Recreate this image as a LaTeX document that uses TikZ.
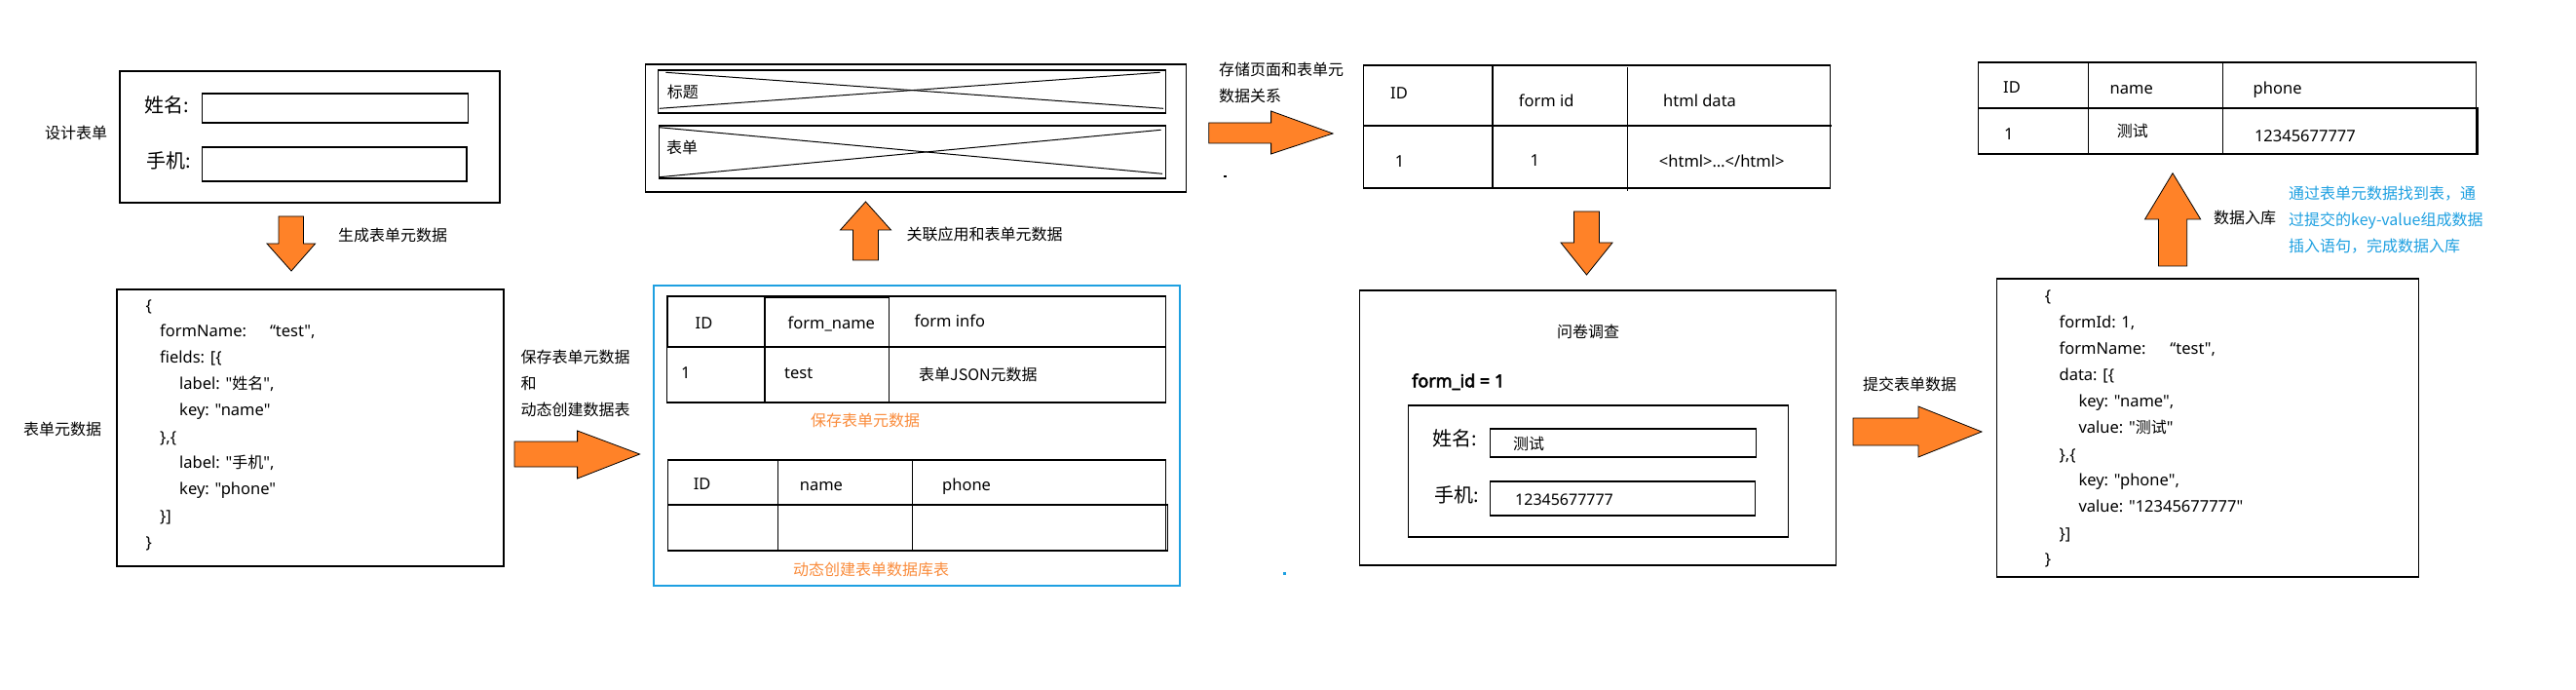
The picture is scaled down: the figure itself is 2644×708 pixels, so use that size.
\documentclass[tikz,border=0pt]{standalone}
\usepackage{fontspec}
\setmainfont{Noto Sans}
\newfontfamily\latn{Noto Sans}
\newfontfamily\latnb{Noto Sans}[FakeBold=3]
\newfontfamily\cjk{Noto Sans CJK SC}
\definecolor{arrowor}{RGB}{255,130,40}
\definecolor{textor}{RGB}{250,140,60}
\definecolor{bluec}{RGB}{30,160,225}
\tikzset{
  bx/.style={draw=black, line width=1.2pt},
  thk/.style={draw=black, line width=2.2pt},
  tx/.style={inner sep=0pt, anchor=west, text height=0.8em, text depth=0.15em, font=\latn\fontsize{16.5}{18}\selectfont},
  cj/.style={tx, font=\cjk\fontsize{16}{18}\selectfont},
  big/.style={tx, font=\cjk\fontsize{20}{22}\selectfont},
  barrow/.style={fill=arrowor, draw=black, line width=0.8pt, line join=miter},
}
\begin{document}
\begin{tikzpicture}[x=1pt,y=-1pt]
\useasboundingbox (0,0) rectangle (2644,708);
\fill[white] (0,0) rectangle (2644,708);

% ---------- design form ----------
\draw[bx] (123,73) rectangle (513,208);
\draw[bx] (207.5,96) rectangle (480.6,126);
\draw[bx] (207.5,151) rectangle (479,186);
\node[big] (l1) at (148,112) {姓名:};
\node[big] (l2) at (150,169) {手机:};
\node[cj] (d1) at (46,139) {设计表单};
\draw[barrow] (286,222) -- (311.5,222) -- (311.5,250) -- (323.6,250) -- (299,278) -- (274,250) -- (286,250) -- cycle;
\node[cj] (a1) at (347,244) {生成表单元数据};

% ---------- form meta JSON ----------
\draw[bx] (120,297) rectangle (517,581);
\node[tx] (j1) at (149.4,316) {\{};
\node[tx] (j2) at (164,342) {formName:\hspace{24pt}“test",};
\node[tx] (j3) at (164,369) {fields: [\{};
\node[tx] (j4) at (184,396) {label: "{\cjk\fontsize{16}{18}\selectfont 姓名}",};
\node[tx] (j5) at (184,423) {key: "name"};
\node[tx] (j6) at (164,451) {\},\{};
\node[tx] (j7) at (184,477) {label: "{\cjk\fontsize{16}{18}\selectfont 手机}",};
\node[tx] (j8) at (184,504) {key: "phone"};
\node[tx] (j9) at (164,532) {\}]};
\node[tx] (j10) at (149.4,559) {\}};
\node[cj] (d2) at (24,443) {表单元数据};
\node[cj] (a2a) at (534.5,369) {保存表单元数据};
\node[cj] (a2b) at (534.5,396) {和};
\node[cj] (a2c) at (534.5,423) {动态创建数据表};
\draw[barrow] (528,453) -- (592.6,453) -- (592.6,442) -- (656.6,466) -- (592.6,491) -- (592.6,479) -- (528,479) -- cycle;

% ---------- page layout ----------
\draw[bx] (662.5,66) rectangle (1217.6,197);
\draw[bx] (675.6,72) rectangle (1196.4,116);
\draw[line width=1pt] (683.4,74.3) -- (1194,111.3);
\draw[line width=1pt] (676.9,111.3) -- (1190.7,74.3);
\draw[bx] (676.4,129) rectangle (1196.4,183);
\draw[line width=1pt] (676.4,130.7) -- (1193,178.3);
\draw[line width=1pt] (676.9,181.7) -- (1191.6,133.3);
\node[cj] (p1) at (684.7,97) {标题};
\node[cj] (p2) at (684,154) {表单};
\draw[barrow] (888.5,207) -- (914.5,236) -- (901.5,236) -- (901.5,267) -- (875.5,267) -- (875.5,236) -- (862.5,236) -- cycle;
\node[cj] (a3) at (930.5,243) {关联应用和表单元数据};

% ---------- database tables (blue frame) ----------
\draw[draw=bluec, line width=1.2pt] (671,293) rectangle (1211,601);
\draw[bx] (684.8,304) rectangle (1196.8,413);
\draw[bx] (784.7,305) rectangle (912.5,413);
\draw[thk] (684.8,356) -- (1196.8,356);
\draw[thk] (684.8,304) rectangle (784.7,356);
\draw[thk] (784.7,304) -- (784.7,413);
\node[tx] (t1a) at (713.5,334) {ID};
\node[tx] (t1b) at (808.4,334) {form\_name};
\node[tx] (t1c) at (938.5,332) {form info};
\node[tx] (t1d) at (699,385) {1};
\node[tx] (t1e) at (805,385) {test};
\node[cj] (t1f) at (943,387) {表单JSON元数据};
\node[cj, text=textor] (o1) at (832,434) {保存表单元数据};
\draw[bx] (685.5,472) rectangle (1196.8,518);
\draw[bx] (685.5,518) rectangle (1198.7,565);
\draw[bx] (1196.8,518) -- (1196.8,565);
\draw[bx] (798.4,472) -- (798.4,565);
\draw[bx] (936.6,472) -- (936.6,565);
\node[tx] (t2a) at (711.6,499) {ID};
\node[tx] (t2b) at (820.6,500) {name};
\node[tx] (t2c) at (967,500) {phone};
\node[cj, text=textor] (o2) at (814,587) {动态创建表单数据库表};

% ---------- page/form relation ----------
\node[cj] (a4a) at (1250.8,74) {存储页面和表单元};
\node[cj] (a4b) at (1250.8,101) {数据关系};
\draw[barrow] (1240.8,126) -- (1304.6,126) -- (1304.6,114) -- (1368,137) -- (1304.6,158) -- (1304.6,147) -- (1240.8,147) -- cycle;
\fill[black] (1256,180) rectangle (1258.5,182.5);
\draw[bx] (1399.6,67) rectangle (1878.7,193);
\draw[bx] (1399.6,129) -- (1879.6,129);
\draw[bx] (1532,67) -- (1532,193);
\draw[bx] (1670.6,69) -- (1670.6,196);
\node[tx] (t3a) at (1427,98) {ID};
\node[tx] (t3b) at (1558.7,106) {form id};
\node[tx] (t3c) at (1707,106) {html data};
\node[tx] (t3d) at (1431.6,168) {1};
\node[tx] (t3e) at (1570.4,167) {1};
\node[tx] (t3f) at (1702.7,168) {<html>…</html>};
\draw[barrow] (1615.5,217) -- (1641.5,217) -- (1641.5,249) -- (1655,249) -- (1628.5,282) -- (1602,249) -- (1615.5,249) -- cycle;

% ---------- survey form ----------
\draw[bx] (1395.5,298) rectangle (1884.5,580);
\node[cj] (s1) at (1598,343) {问卷调查};
\node[tx, font=\latnb\fontsize{18}{20}\selectfont] (s2) at (1449,394) {form\_id = 1};
\draw[bx] (1445.3,416) rectangle (1835.5,551);
\draw[bx] (1529.4,440) rectangle (1802.4,469);
\draw[bx] (1529.4,494) rectangle (1801.6,529);
\node[big] (s3) at (1470.6,454) {姓名:};
\node[big] (s4) at (1472,512) {手机:};
\node[cj] (s5) at (1553,458) {测试};
\node[tx, font=\latn\fontsize{16}{18}\selectfont] (s6) at (1555,515) {12345677777};
\fill[bluec] (1317,587) rectangle (1319.5,589.5);
\node[cj] (a6) at (1912,397) {提交表单数据};
\draw[barrow] (1902,429) -- (1969,429) -- (1969,417) -- (2034,443) -- (1969,469) -- (1969,457) -- (1902,457) -- cycle;

% ---------- submitted JSON ----------
\draw[bx] (2049.5,286) rectangle (2482.7,592);
\node[tx] (k1) at (2098.6,306.7) {\{};
\node[tx] (k2) at (2113.4,333) {formId: 1,};
\node[tx] (k3) at (2113.4,360) {formName:\hspace{25pt}“test",};
\node[tx] (k4) at (2113.4,387) {data: [\{};
\node[tx] (k5) at (2133.3,414) {key: "name",};
\node[tx] (k6) at (2133.3,441.7) {value: "{\cjk\fontsize{16}{18}\selectfont 测试}"};
\node[tx] (k7) at (2113.4,469) {\},\{};
\node[tx] (k8) at (2133.3,495.7) {key: "phone",};
\node[tx] (k9) at (2133.3,522) {value: "12345677777"};
\node[tx] (k10) at (2113.4,550) {\}]};
\node[tx] (k11) at (2098.6,576.7) {\}};

% ---------- data table ----------
\draw[barrow] (2230,177.7) -- (2258.7,225) -- (2244.7,225) -- (2244.7,273) -- (2215.5,273) -- (2215.5,225) -- (2201.5,225) -- cycle;
\node[cj] (a7) at (2272,226) {数据入库};
\node[cj, text=bluec] (b1) at (2349,201) {通过表单元数据找到表，通};
\node[cj, text=bluec] (b2) at (2349,228) {过提交的key-value组成数据};
\node[cj, text=bluec] (b3) at (2349,255) {插入语句，完成数据入库};
\draw[bx] (2030.4,64) rectangle (2541.6,111);
\draw[bx] (2030.4,111) rectangle (2543,158);
\draw[bx] (2541.6,111) -- (2541.6,158);
\draw[bx] (2143.5,64) -- (2143.5,158);
\draw[bx] (2281.6,64) -- (2281.6,158);
\node[tx] (t4a) at (2056,92) {ID};
\node[tx] (t4b) at (2165.5,93) {name};
\node[tx] (t4c) at (2312.5,93) {phone};
\node[tx] (t4d) at (2057,140) {1};
\node[cj] (t4e) at (2172.7,137) {测试};
\node[tx] (t4f) at (2313.8,142) {12345677777};
\end{tikzpicture}
\end{document}
